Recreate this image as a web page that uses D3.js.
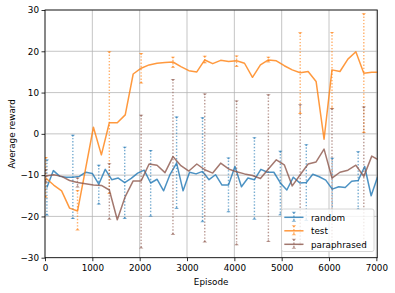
<!DOCTYPE html>
<html>
<head>
<meta charset="utf-8">
<script src="https://cdn.jsdelivr.net/npm/d3@7"></script>
<style>
  html, body { margin: 0; padding: 0; background: #fff; }
  svg { display: block; font-family: "DejaVu Sans", sans-serif; }
</style>
</head>
<body>
<svg id="chart" width="395" height="293"></svg>
<script>
// ---- data ----
const randomEpisodes = [40, 177, 314, 451, 588, 725, 862, 999, 1136, 1273, 1410, 1547, 1684, 1821, 1958, 2095,
  2232, 2369, 2506, 2643, 2780, 2917, 3054, 3191, 3328, 3465, 3602, 3739, 3876, 4013, 4150, 4287, 4424, 4561,
  4698, 4835, 4972, 5109, 5246, 5383, 5520, 5657, 5794, 5931, 6068, 6205, 6342, 6479, 6616, 6753, 6890, 7027];
const randomReward = [-13.0, -8.9, -10.3, -10.5, -10.5, -10.3, -9.3, -9.6, -12.2, -8.6, -11.1, -10.7, -11.8,
  -10.8, -9.5, -8.8, -11.9, -11.0, -13.8, -9.8, -7.1, -13.8, -9.3, -9.7, -9.1, -11.1, -9.9, -12.4, -12.4, -7.9,
  -12.8, -10.7, -11.1, -8.6, -9.3, -9.3, -11.9, -13.6, -10.5, -11.9, -11.8, -9.8, -10.4, -11.2, -13.4, -12.8,
  -13.0, -11.5, -11.3, -7.9, -15.0, -10.4];

const evalEpisodes = [15, 183, 351, 519, 687, 855, 1023, 1191, 1359, 1527, 1695, 1863, 2031, 2199, 2367, 2535,
  2703, 2871, 3039, 3207, 3375, 3543, 3711, 3879, 4047, 4215, 4383, 4551, 4719, 4887, 5055, 5223, 5391, 5559,
  5727, 5895, 6063, 6231, 6399, 6567, 6735, 6903, 7071];
const testReward = [-10.7, -12.4, -13.8, -18.0, -18.7, -8.6, 1.6, -5.1, 2.7, 2.7, 4.6, 14.5, 15.9, 16.7, 17.1,
  17.3, 17.4, 16.3, 15.3, 15.0, 17.9, 17.0, 17.8, 17.5, 17.7, 17.1, 13.7, 16.7, 17.9, 17.7, 16.5, 15.5, 14.8,
  15.1, 12.7, -1.3, 15.5, 15.1, 18.1, 19.9, 14.7, 14.9, 14.9];
const paraphrasedReward = [-10.2, -9.9, -10.3, -11.3, -11.8, -12.1, -12.4, -12.5, -13.6, -20.8, -15.2, -11.4,
  -11.4, -7.3, -7.6, -9.4, -5.5, -7.7, -9.0, -7.3, -8.7, -9.5, -7.1, -8.5, -9.2, -9.7, -10.1, -10.8, -8.5, -6.3,
  -7.5, -12.6, -9.9, -7.3, -6.8, -3.7, -10.7, -9.3, -8.8, -7.6, -10.3, -5.4, -6.5];

// error bars (low / high)
const randomErrEpisodes = [40, 588, 1136, 1684, 2232, 2780, 3328, 3876, 4424, 4972, 5520, 6068, 6616];
const randomErrLow = [-19.8, -20.6, -17.1, -20.6, -20.1, -18.2, -21.4, -19.0, -20.8, -19.7, -21.1, -21.0, -18.4];
const randomErrHigh = [-6.2, -0.2, -7.5, -3.1, -3.9, 4.2, 4.0, -5.7, -0.8, -4.1, -2.5, -5.8, -4.2];

const evalErrEpisodes = [15, 687, 1359, 2031, 2703, 3375, 4047, 4719, 5391, 6063, 6735];
const testErrLow = [-15.5, -23.4, -14.6, 12.2, 16.0, 17.1, 16.2, 17.3, 4.8, 6.0, 0.2];
const testErrHigh = [-5.6, -13.6, 20.0, 19.6, 18.7, 18.9, 19.0, 18.7, 24.6, 24.7, 29.2];
const paraphrasedErrLow = [-11.8, -13.0, -20.8, -27.8, -24.5, -26.3, -27.0, -26.2, -27.0, -27.6, -27.2];
const paraphrasedErrHigh = [-8.6, -10.6, -7.1, 4.6, 13.3, 9.8, 8.1, 9.6, 7.2, 6.2, 6.6];

const seriesNames = ["random", "test", "paraphrased"];
const xTicks = [0, 1000, 2000, 3000, 4000, 5000, 6000, 7000];
const yTicks = [-30, -20, -10, 0, 10, 20, 30];

// ---- layout ----
const svg = d3.select("#chart");
const plot = { left: 45, right: 377.3, top: 10, bottom: 257.7 };
const fontSize = 8.8;

const x = d3.scaleLinear().domain([0, 7020]).range([plot.left, plot.right]);
const y = d3.scaleLinear().domain([-30, 30]).range([plot.bottom, plot.top]);

const colors = { random: "#1f77b4", test: "#ff7f0e", paraphrased: "#8c564b" };

const series = [
  { name: "random", xs: randomEpisodes, ys: randomReward,
    ex: randomErrEpisodes, lo: randomErrLow, hi: randomErrHigh },
  { name: "test", xs: evalEpisodes, ys: testReward,
    ex: evalErrEpisodes, lo: testErrLow, hi: testErrHigh },
  { name: "paraphrased", xs: evalEpisodes, ys: paraphrasedReward,
    ex: evalErrEpisodes, lo: paraphrasedErrLow, hi: paraphrasedErrHigh },
];

svg.append("defs").append("clipPath").attr("id", "clip")
  .append("rect")
  .attr("x", plot.left).attr("y", plot.top)
  .attr("width", plot.right - plot.left).attr("height", plot.bottom - plot.top);

// grid
const grid = svg.append("g");
grid.selectAll(".gx").data(xTicks).join("line")
  .attr("x1", (d) => x(d)).attr("x2", (d) => x(d))
  .attr("y1", plot.top).attr("y2", plot.bottom)
  .attr("stroke", "#b0b0b0").attr("stroke-width", 0.9).attr("opacity", 0.8);
grid.selectAll(".gy").data(yTicks).join("line")
  .attr("x1", plot.left).attr("x2", plot.right)
  .attr("y1", (d) => y(d)).attr("y2", (d) => y(d))
  .attr("stroke", "#b0b0b0").attr("stroke-width", 0.9).attr("opacity", 0.8);

// caps drawn as small wedge markers
function capPath(cx, cy, dir) {
  // dir = 1 -> top cap (points down), -1 -> bottom cap (points up)
  return `M${cx - 2.3},${cy}L${cx + 2.3},${cy}L${cx},${cy + dir * 2.2}Z`;
}

const dataLayer = svg.append("g").attr("clip-path", "url(#clip)");

series.forEach((s) => {
  const c = colors[s.name];
  const bars = s.ex.map((e, i) => ({ e, lo: s.lo[i], hi: s.hi[i] }));
  const g = dataLayer.append("g").attr("class", "series-" + s.name);

  g.selectAll("line.bar").data(bars).join("line")
    .attr("class", "bar")
    .attr("x1", (d) => x(d.e)).attr("x2", (d) => x(d.e))
    .attr("y1", (d) => y(d.hi)).attr("y2", (d) => y(d.lo))
    .attr("stroke", c).attr("stroke-width", 1.4)
    .attr("stroke-dasharray", "1.4,1.8")
    .attr("opacity", 0.6);

  g.selectAll("path.captop").data(bars).join("path")
    .attr("class", "captop")
    .attr("d", (d) => capPath(x(d.e), y(d.hi), 1))
    .attr("fill", c).attr("opacity", 0.6);
  g.selectAll("path.capbot").data(bars).join("path")
    .attr("class", "capbot")
    .attr("d", (d) => capPath(x(d.e), y(d.lo), -1))
    .attr("fill", c).attr("opacity", 0.6);

  const line = d3.line().x((d) => x(d[0])).y((d) => y(d[1]));
  g.append("path")
    .datum(d3.zip(s.xs, s.ys))
    .attr("d", line)
    .attr("fill", "none")
    .attr("stroke", c)
    .attr("stroke-width", 1.5)
    .attr("stroke-linejoin", "round")
    .attr("opacity", 0.8);
});

// axes
const xAxis = d3.axisBottom(x).tickValues(xTicks).tickSize(3.5).tickPadding(3.5).tickFormat(d3.format("d"));
const yAxis = d3.axisLeft(y).tickValues(yTicks).tickSize(3.5).tickPadding(2.5).tickFormat(d3.format("d"));

const gx = svg.append("g").attr("transform", `translate(0,${plot.bottom})`).call(xAxis);
const gy = svg.append("g").attr("transform", `translate(${plot.left},0)`).call(yAxis);
[gx, gy].forEach((g) => {
  g.select(".domain").remove();
  g.selectAll(".tick line").attr("stroke", "#000").attr("stroke-width", 0.8);
  g.selectAll(".tick text")
    .attr("fill", "#000")
    .style("font-size", fontSize + "px")
    .style("font-family", "DejaVu Sans");
});

// spines
svg.append("rect")
  .attr("x", plot.left).attr("y", plot.top)
  .attr("width", plot.right - plot.left).attr("height", plot.bottom - plot.top)
  .attr("fill", "none").attr("stroke", "#000").attr("stroke-width", 0.8);

// axis labels
svg.append("text")
  .attr("x", (plot.left + plot.right) / 2).attr("y", 285)
  .attr("text-anchor", "middle")
  .style("font-size", fontSize + "px")
  .text("Episode");
svg.append("text")
  .attr("transform", `translate(14.5,${(plot.top + plot.bottom) / 2}) rotate(-90)`)
  .attr("text-anchor", "middle")
  .style("font-size", fontSize + "px")
  .text("Average reward");

// legend
const legend = svg.append("g");
legend.append("rect")
  .attr("x", 281.5).attr("y", 209).attr("width", 92.5).attr("height", 42.5)
  .attr("rx", 2).attr("fill", "#fff").attr("fill-opacity", 0.8)
  .attr("stroke", "#cccccc").attr("stroke-width", 0.8);

const legendRows = legend.selectAll("g.row").data(seriesNames).join("g")
  .attr("class", "row")
  .attr("transform", (d, i) => `translate(0,${217.3 + i * 13.5})`);

legendRows.append("line")
  .attr("x1", 284.3).attr("x2", 303.5).attr("y1", 0).attr("y2", 0)
  .attr("stroke", (d) => colors[d]).attr("stroke-width", 1.5).attr("opacity", 0.8);
legendRows.append("line")
  .attr("x1", 293.9).attr("x2", 293.9).attr("y1", -5).attr("y2", 4.5)
  .attr("stroke", (d) => colors[d]).attr("stroke-width", 1.4)
  .attr("stroke-dasharray", "1.4,1.8").attr("opacity", 0.6);
legendRows.append("path")
  .attr("d", capPath(293.9, -5.5, 1)).attr("fill", (d) => colors[d]).attr("opacity", 0.6);
legendRows.append("path")
  .attr("d", capPath(293.9, 4.5, -1)).attr("fill", (d) => colors[d]).attr("opacity", 0.6);
legendRows.append("text")
  .attr("x", 311).attr("y", 3.2)
  .style("font-size", fontSize + "px")
  .text((d) => d);
</script>
</body>
</html>
